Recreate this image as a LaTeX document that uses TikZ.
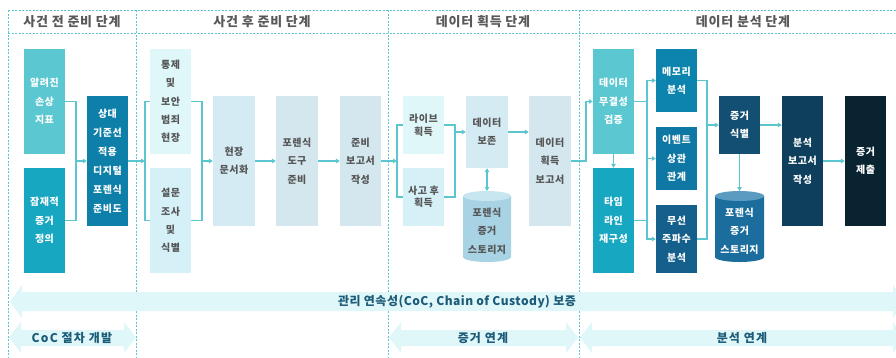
\documentclass[tikz,border=0pt]{standalone}
\usepackage{fontspec}
\setmainfont{Noto Sans CJK KR}
\newfontfamily\krH{Noto Sans CJK KR}[LetterSpace=6]
\newfontfamily\krB{Noto Sans CJK KR}[LetterSpace=5]
\newfontfamily\krM{Noto Sans CJK KR}[LetterSpace=4]
\newfontfamily\krL{Noto Sans CJK KR}[LetterSpace=10]
\usetikzlibrary{arrows.meta}
\definecolor{cDash}{HTML}{5CC6D0}
\definecolor{cLine}{HTML}{5CC6D0}
\definecolor{cT1}{HTML}{5BC8D1}
\definecolor{cT2}{HTML}{18A7C1}
\definecolor{cT3}{HTML}{0E7FA8}
\definecolor{cL1}{HTML}{E0F7FA}
\definecolor{cL2}{HTML}{D5F1F7}
\definecolor{cL3}{HTML}{D5EBF3}
\definecolor{cL4}{HTML}{D4E7EF}
\definecolor{cCylA}{HTML}{A8D3E5}
\definecolor{cCylAt}{HTML}{C8E6F0}
\definecolor{cB1}{HTML}{0C84AD}
\definecolor{cB2}{HTML}{0E77A3}
\definecolor{cB3}{HTML}{145F8C}
\definecolor{cB4}{HTML}{124F73}
\definecolor{cCylB}{HTML}{1A6D9C}
\definecolor{cCylBt}{HTML}{5C9BC1}
\definecolor{cB5}{HTML}{0E3F5C}
\definecolor{cB6}{HTML}{0A2331}
\definecolor{cBand}{HTML}{E0F7FA}
\definecolor{cBandTxt}{HTML}{1B5B78}
\definecolor{cHead}{HTML}{595959}
\definecolor{cTxt}{HTML}{555555}
\begin{document}
\begin{tikzpicture}[x=1pt,y=-1pt,
  box/.style={minimum width=41pt, inner sep=0pt, align=center,
    font=\krB\bfseries\fontsize{10}{18.3}\selectfont, text=cTxt},
  wbox/.style={box, text=white},
  tight/.style={font=\krB\bfseries\fontsize{10}{12.5}\selectfont},
  hdr/.style={font=\krH\bfseries\fontsize{13}{15}\selectfont, text=cHead, inner sep=0pt},
  bandtxt/.style={font=\krM\bfseries\fontsize{12}{14}\selectfont, text=cBandTxt, inner sep=0pt},
  bandtxtL/.style={font=\krL\bfseries\fontsize{12}{14}\selectfont, text=cBandTxt, inner sep=0pt},
  dline/.style={cDash, line width=1pt, dash pattern=on 2pt off 1.5pt},
  conn/.style={cLine, line width=1.2pt},
  arr/.style={conn, -{Triangle[length=4pt,width=4.5pt]}},
  darr/.style={conn, {Triangle[length=4pt,width=4.5pt]}-{Triangle[length=4pt,width=4.5pt]}}
]
\useasboundingbox (0,0) rectangle (896,357);
\clip (0,0) rectangle (896,357);
\fill[white] (0,0) rectangle (896,357);

% dashed frame
\draw[dline] (8,10) -- (896,10);
\draw[dline] (8,33) -- (896,33);
\foreach \xx in {8,136,388,579} \draw[dline] (\xx,10) -- (\xx,357);

% headers
\node[hdr] (h1) at (72,22) {사건 전 준비 단계};
\node[hdr] (h2) at (262,22) {사건 후 준비 단계};
\node[hdr] (h3) at (483,22) {데이터 획득 단계};
\node[hdr] (h4) at (743,22) {데이터 분석 단계};

% column 1
\node[wbox, fill=cT1, minimum height=105pt] (k1) at (44.5,101.5) {알려진\\손상\\지표};
\node[wbox, fill=cT2, minimum height=105pt] (k2) at (44.5,220.5) {잠재적\\증거\\정의};
\node[wbox, fill=cT3, minimum height=130pt, font=\krB\bfseries\fontsize{10}{19}\selectfont] (k3) at (107.5,161) {상대\\기준선\\적용\\디지털\\포렌식\\준비도};

% column 2
\node[box, fill=cL1, minimum height=105pt] (p1) at (170.5,101.5) {통제\\및\\보안\\범죄\\현장};
\node[box, fill=cL2, minimum height=105pt] (p2) at (170.5,220.5) {설문\\조사\\및\\식별};
\node[box, fill=cL3, minimum width=42pt, minimum height=130pt] (p3) at (234,161) {현장\\문서화};
\node[box, fill=cL4, minimum width=42pt, minimum height=130pt] (p4) at (297,161) {포렌식\\도구\\준비};
\node[box, fill=cL4, minimum height=130pt] (p5) at (360.5,161) {준비\\보고서\\작성};

% column 3
\node[box, tight, fill=cL1, minimum height=58pt] (a1) at (423.5,125) {라이브\\획득};
\node[box, tight, fill=cL2, minimum height=58pt] (a2) at (423.5,197) {사고 후\\획득};
\node[box, fill=cL3, minimum width=42pt, minimum height=72pt] (a3) at (487,132) {데이터\\보존};
\node[box, fill=cL4, minimum width=42pt, minimum height=130pt] (a4) at (550,161) {데이터\\획득\\보고서};
\fill[cCylA] (463,196) -- (463,257) arc[start angle=180, end angle=0, x radius=24, y radius=5] -- (511,196) -- cycle;
\fill[cCylAt] (487,196) ellipse[x radius=24, y radius=5];
\node[box, minimum width=48pt, minimum height=60pt] (s1) at (487,231) {포렌식\\증거\\스토리지};
\coordinate (s1top) at (487,191);

% column 4
\node[wbox, fill=cT1, minimum height=105pt] (d1) at (613.5,101.5) {데이터\\무결성\\검증};
\node[wbox, fill=cT2, minimum height=105pt] (d2) at (613.5,220.5) {타임\\라인\\재구성};
\node[wbox, fill=cB1, minimum height=63pt] (d3) at (676.5,80.5) {메모리\\분석};
\node[wbox, fill=cB2, minimum height=63pt] (d4) at (676.5,158.5) {이벤트\\상관\\관계};
\node[wbox, fill=cB3, minimum height=68pt] (d5) at (676.5,239) {무선\\주파수\\분석};
\node[wbox, fill=cB4, minimum height=58pt] (d6) at (739.5,125) {증거\\식별};
\fill[cCylB] (715,196) -- (715,257) arc[start angle=180, end angle=0, x radius=24.5, y radius=5] -- (764,196) -- cycle;
\fill[cCylBt] (739.5,196) ellipse[x radius=24.5, y radius=5];
\node[wbox, minimum width=48pt, minimum height=60pt] (s2) at (739.5,231) {포렌식\\증거\\스토리지};
\coordinate (s2top) at (739.5,191);
\node[wbox, fill=cB5, minimum height=130pt] (d7) at (802.5,161) {분석\\보고서\\작성};
\node[wbox, fill=cB6, minimum height=130pt] (d8) at (865.5,161) {증거\\제출};

% connectors
\coordinate (j1) at (76,161);
\draw[conn] (k1.east) -| (j1);
\draw[conn] (k2.east) -| (j1);
\draw[arr] (j1) -- (k3.west);
\coordinate (j2) at (145,161);
\draw[arr] (k3.east) -- (j2);
\draw[conn] (p1.west) -| (j2) |- (p2.west);
\coordinate (j3) at (202,161);
\draw[conn] (p1.east) -| (j3);
\draw[conn] (p2.east) -| (j3);
\draw[arr] (j3) -- (p3.west);
\draw[arr] (p3.east) -- (p4.west);
\draw[arr] (p4.east) -- (p5.west);
\coordinate (j4) at (397,161);
\draw[arr] (p5.east) -- (j4);
\draw[conn] (a1.west) -| (j4) |- (a2.west);
\coordinate (j5) at (455,132);
\draw[conn] (a1.east) -| (j5) |- (a2.east);
\draw[arr] (j5) -- (a3.west);
\draw[arr] (a3.east) -- (a3.east -| a4.west);
\draw[darr] (a3.south) -- (s1top);
\coordinate (j6) at (586,161);
\draw[arr] (a4.east) -- (j6) |- (d1.west);
\draw[arr] (d1.south) -- (d2.north);
\coordinate (j7) at (647,101.5);
\draw[conn] (d1.east) -- (j7);
\draw[conn] (d2.east) -| (j7);
\draw[arr] (j7) |- (d3.west);
\draw[arr] (j7) |- (d4.west);
\draw[arr] (j7) |- (d5.west);
\coordinate (j8) at (707,125);
\draw[conn] (d3.east) -| (j8);
\draw[conn] (d5.east) -| (j8);
\draw[arr] (j8) -- (d6.west);
\draw[arr] (d6.south) -- (s2top);
\draw[arr] (d6.east) -- (d6.east -| d7.west);
\draw[arr] (d7.east) -- (d8.west);

% bottom bands
\fill[cBand] (10,301.5) -- (22,285) -- (22,292) -- (893,292) -- (893,285) -- (905,301.5) -- (893,318) -- (893,311) -- (22,311) -- (22,318) -- cycle;
\node[bandtxt] (b0) at (457,301.5) {관리 연속성(CoC, Chain of Custody) 보증};
\fill[cBand] (9,337.5) -- (21,322) -- (21,330) -- (124,330) -- (124,322) -- (136,337.5) -- (124,353) -- (124,346) -- (21,346) -- (21,353) -- cycle;
\node[bandtxtL] (b1) at (72,338) {CoC 절차 개발};
\fill[cBand] (389,337.5) -- (401,322) -- (401,330) -- (566,330) -- (566,322) -- (578,337.5) -- (566,353) -- (566,346) -- (401,346) -- (401,353) -- cycle;
\node[bandtxtL] (b2) at (483,338) {증거 연계};
\fill[cBand] (580,337.5) -- (592,322) -- (592,330) -- (893,330) -- (893,322) -- (905,337.5) -- (893,353) -- (893,346) -- (592,346) -- (592,353) -- cycle;
\node[bandtxtL] (b3) at (742,338) {분석 연계};
\end{tikzpicture}
\end{document}
